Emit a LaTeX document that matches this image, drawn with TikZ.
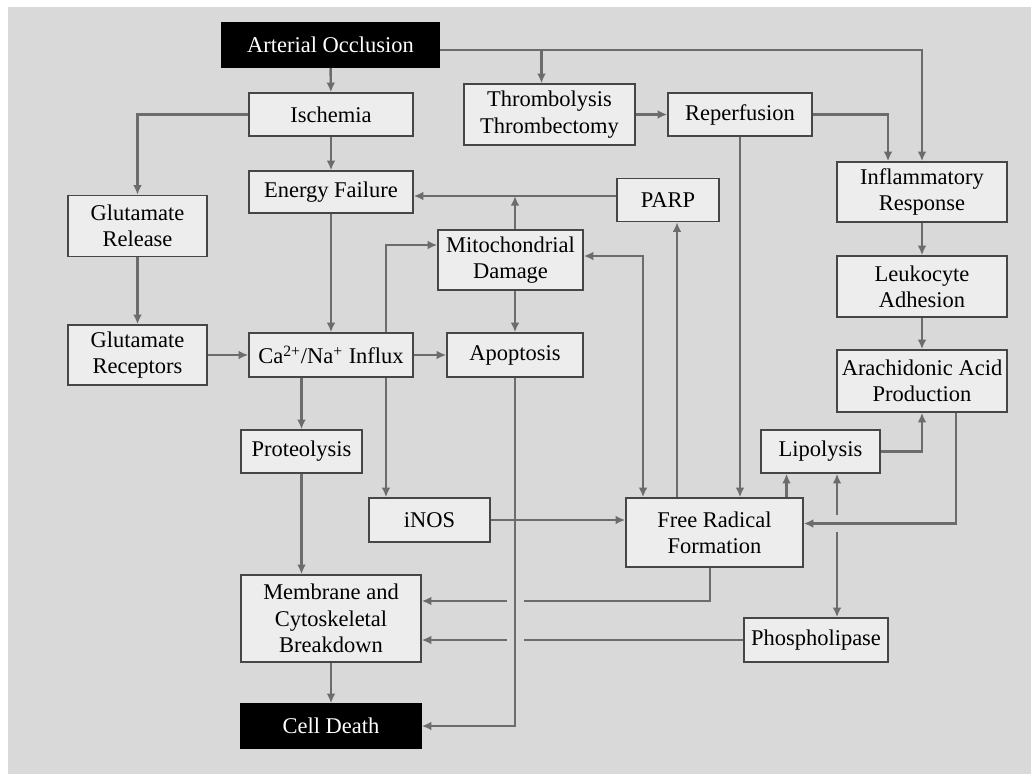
\documentclass[tikz,border=0pt]{standalone}
\usepackage{fontspec}
\setmainfont{Liberation Serif}
\usetikzlibrary{arrows.meta}

\definecolor{bggray}{RGB}{217,217,217}
\definecolor{boxfill}{RGB}{237,237,237}
\definecolor{boxline}{RGB}{70,70,70}
\definecolor{wiregray}{RGB}{108,108,108}

\begin{document}
\begin{tikzpicture}[> = {Latex[length = 5.5pt, width = 5pt]}, x = 0.02cm, y = -0.02cm,
	box/.style = {draw = boxline, fill = boxfill, line width = 0.9pt, align = center,
		inner sep = 0pt, font = \fontsize{12.8}{15}\selectfont},
	endbox/.style = {box, draw = black, fill = black, text = white},
	link/.style = {draw = wiregray, line width = 1.4pt},
	bridge/.style = {draw = bggray, line width = 0.34cm}]

	% Background

	\fill [white] (0, 0) rectangle (1031, 774);
	\fill [bggray] (8, 7) rectangle (1031, 774);
	\useasboundingbox (0, 0) rectangle (1031, 774);

	% Nodes

	\node [endbox, minimum width = 4.34cm, minimum height = 0.88cm] (ao) at (330.5, 45) {Arterial Occlusion};
	\node [box, minimum width = 3.28cm, minimum height = 0.86cm] (isch) at (331, 114.5) {Ischemia};
	\node [box, minimum width = 3.42cm, minimum height = 1.22cm] (thromb) at (549.5, 114.5) {Thrombolysis\\Thrombectomy};
	\node [box, minimum width = 2.88cm, minimum height = 0.86cm] (reperf) at (740, 114.5) {Reperfusion};
	\node [box, minimum width = 3.40cm, minimum height = 1.20cm] (infl) at (922, 192) {Inflammatory\\Response};
	\node [box, minimum width = 3.28cm, minimum height = 0.84cm] (ef) at (331, 192) {Energy Failure};
	\node [box, minimum width = 2.04cm, minimum height = 0.86cm] (parp) at (668, 200) {PARP};
	\node [box, minimum width = 2.78cm, minimum height = 1.22cm] (glurel) at (137.5, 226) {Glutamate\\Release};
	\node [box, minimum width = 2.90cm, minimum height = 1.20cm] (mito) at (510.5, 260) {Mitochondrial\\Damage};
	\node [box, minimum width = 3.40cm, minimum height = 1.22cm] (leuk) at (922, 286.5) {Leukocyte\\Adhesion};
	\node [box, minimum width = 2.78cm, minimum height = 1.20cm] (glurec) at (137.5, 355) {Glutamate\\Receptors};
	\node [box, minimum width = 3.28cm, minimum height = 0.88cm] (ca) at (331, 355) {Ca\textsuperscript{2+}/Na\textsuperscript{+} Influx};
	\node [box, minimum width = 2.72cm, minimum height = 0.88cm] (apop) at (515, 355) {Apoptosis};
	\node [box, minimum width = 3.40cm, minimum height = 1.24cm] (arach) at (922, 381) {Arachidonic Acid\\Production};
	\node [box, minimum width = 2.38cm, minimum height = 0.86cm] (lip) at (820.5, 451.5) {Lipolysis};
	\node [box, minimum width = 2.42cm, minimum height = 0.86cm] (prot) at (301.5, 451.5) {Proteolysis};
	\node [box, minimum width = 2.42cm, minimum height = 0.88cm] (inos) at (429.5, 520) {iNOS};
	\node [box, minimum width = 3.54cm, minimum height = 1.38cm] (fr) at (714.5, 532.5) {Free Radical\\Formation};
	\node [box, minimum width = 3.60cm, minimum height = 1.74cm] (memb) at (331, 618.5) {Membrane and\\Cytoskeletal\\Breakdown};
	\node [box, minimum width = 2.88cm, minimum height = 0.88cm] (phos) at (816, 640) {Phospholipase};
	\node [endbox, minimum width = 3.60cm, minimum height = 0.88cm] (death) at (331, 726) {Cell Death};

	% Bend points

	\coordinate (aoe) at ([yshift = -0.1cm] ao.east);
	\coordinate (thn) at ([xshift = -0.16cm] thromb.north);
	\coordinate (inn) at ([xshift = -0.68cm] infl.north);
	\coordinate (parpw) at ([yshift = 0.08cm] parp.west);
	\coordinate (mitn) at (mito.north -| apop.north);
	\coordinate (parps) at ([xshift = 0.18cm] parp.south);
	\coordinate (cax) at ([xshift = 1.1cm] ca.north);
	\coordinate (mitw) at ([yshift = 0.3cm] mito.west);
	\coordinate (mite) at ([yshift = 0.08cm] mito.east);
	\coordinate (frn) at ([xshift = -1.43cm] fr.north);
	\coordinate (fre) at ([yshift = 0.18cm] fr.east);
	\coordinate (frs) at ([xshift = -0.09cm] fr.south);
	\coordinate (memu) at ([yshift = 0.35cm] memb.east);
	\coordinate (lipa) at ([xshift = -0.68cm] lip.south);
	\coordinate (lipb) at ([xshift = 0.33cm] lip.south);
	\coordinate (arb) at ([xshift = 0.68cm] arach.south);
	\coordinate (apx) at (apop.south |- memb.east);

	% Connectors

	\draw [link, ->] (ao) -- (isch);
	\draw [link, ->] (aoe) -| (infl.north);
	\draw [link, ->] (thn |- aoe) -- (thn);
	\draw [link, ->] (isch.west) -| (glurel.north);
	\draw [link, ->] (isch) -- (ef);
	\draw [link, ->] (thromb.east) -- (reperf.west);
	\draw [link, ->] (reperf.east) -| (inn);
	\draw [link, ->] (reperf.south) -- (reperf.south |- fr.north);
	\draw [link, ->] (infl) -- (leuk);
	\draw [link, ->] (leuk) -- (arach);
	\draw [link, ->] (parpw) -- (parpw -| ef.east);
	\draw [link, ->] (mitn) -- (mitn |- parpw);
	\draw [link, ->] (parps |- fr.north) -- (parps);
	\draw [link, ->] (ef) -- (ca);
	\draw [link, ->] (cax) |- (mitw);
	\draw [link, <->] (mite) -| (frn);
	\draw [link, ->] (mitn |- mito.south) -- (apop.north);
	\draw [link, ->] (glurel) -- (glurec);
	\draw [link, ->] (glurec) -- (ca);
	\draw [link, ->] (ca) -- (apop);
	\draw [link, ->] (ca.south -| prot.north) -- (prot.north);
	\draw [link, ->] (cax |- ca.south) -- (cax |- inos.north);
	\draw [link, ->] (prot.south) -- (prot.south |- memb.north);
	\draw [link, ->] (memb) -- (death);
	\draw [link, ->] (frs) |- (memu);
	\draw [link, ->] (phos.west) -- (phos.west -| memb.east);
	\draw [link, ->] (lipa |- fr.north) -- (lipa);
	\draw [link, ->] (lip.east) -| (arach.south);
	\draw [link, <->] (lipb) -- (lipb |- phos.north);

	% Crossings

	\draw [bridge] ([yshift = 0.5cm] apx) -- ([yshift = -0.6cm] apx);
	\draw [bridge] ([xshift = -0.3cm] lipb |- fre) -- ([xshift = 0.3cm] lipb |- fre);

	\draw [link, ->] (apop.south) |- (death.east);
	\draw [link, ->] (arb) |- (fre);
	\draw [link, ->] (inos.east) -- (inos.east -| fr.west);

\end{tikzpicture}
\end{document}
